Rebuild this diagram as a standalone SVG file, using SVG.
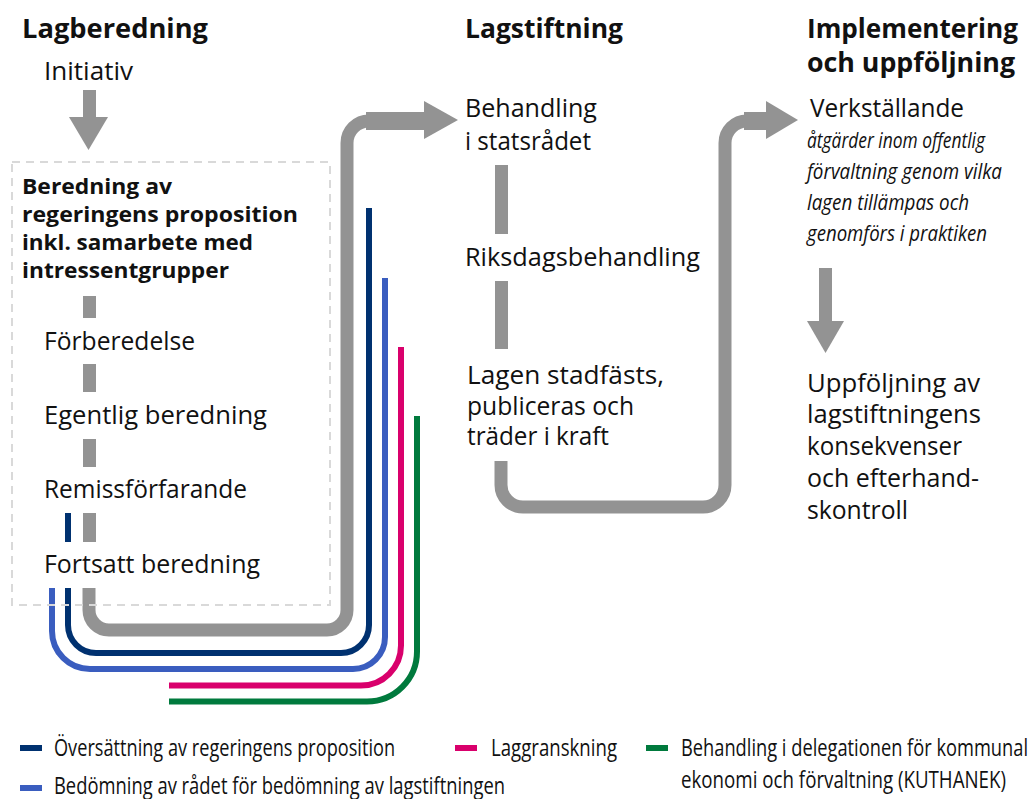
<svg xmlns="http://www.w3.org/2000/svg" width="1033" height="799" viewBox="0 0 1033 799">
<style>
.t{font-family:"Open Sans","Noto Sans",sans-serif;font-size:25px;fill:#111}
.h{font-family:"Open Sans","Noto Sans",sans-serif;font-size:26px;font-weight:bold;fill:#111}
.b{font-family:"Open Sans","Noto Sans",sans-serif;font-size:22px;font-weight:bold;fill:#111}
.i{font-family:"Open Sans","Noto Sans",sans-serif;font-size:22px;font-style:italic;fill:#111}
.l{font-family:"Open Sans","Noto Sans",sans-serif;font-size:23px;fill:#111}
.g{fill:#939393}
.gs{fill:none;stroke:#939393;stroke-width:13}
.c{fill:none;stroke-width:6}
</style>
<rect x="0" y="0" width="1033" height="799" fill="#fff"/>
<g id="connectors">
  <rect class="g" x="83" y="90" width="13" height="28"/>
  <polygon class="g" points="69,117 108,117 88.5,150"/>
  <rect class="g" x="83" y="296" width="13" height="22"/>
  <rect class="g" x="83" y="364" width="13" height="28"/>
  <rect class="g" x="83" y="439" width="13" height="28"/>
  <rect class="g" x="83" y="513" width="13" height="29"/>
  <rect x="65" y="513" width="6" height="29" fill="#003170"/>
  <rect class="g" x="495" y="165" width="13" height="69"/>
  <rect class="g" x="495" y="281" width="13" height="68"/>
  <rect class="g" x="819" y="268" width="13" height="54"/>
  <polygon class="g" points="807,321 844,321 825.5,353"/>
  <path class="c" stroke="#007a3d" d="M169,701.5 H367 A50,50 0 0 0 417,651.5 V416"/>
  <path class="c" stroke="#d9006c" d="M169,685.5 H361 A40,40 0 0 0 401,645.5 V347"/>
  <path class="c" stroke="#3a5dbf" d="M52,588 V631 A38,38 0 0 0 90,669 H353 A32,32 0 0 0 385,637 V278"/>
  <path class="c" stroke="#003170" d="M68,588 V625 A28,28 0 0 0 96,653 H341 A28,28 0 0 0 369,625 V208"/>
  <path class="gs" d="M89,588 V610 A20,20 0 0 0 109,630 H327 A20,20 0 0 0 347,610 V143 A22,22 0 0 1 369,121 H426"/>
  <rect class="g" x="366" y="112" width="60" height="18"/>
  <polygon class="g" points="424,101 424,139 458,120"/>
  <path class="gs" d="M501,461 V485 A22,22 0 0 0 523,507 H703 A22,22 0 0 0 725,485 V143 A22,22 0 0 1 747,121 H768"/>
  <rect class="g" x="744" y="112" width="24" height="18"/>
  <polygon class="g" points="766,101 766,139 798,120"/>
</g>
<g id="col-lagberedning">
  <text class="h" x="22" y="38" textLength="186" lengthAdjust="spacingAndGlyphs">Lagberedning</text>
  <text class="t" x="44" y="80" textLength="89" lengthAdjust="spacingAndGlyphs">Initiativ</text>
</g>
<g id="node-beredning">
  <rect x="12" y="162" width="318" height="443" fill="none" stroke="#d9d9d9" stroke-width="2" stroke-dasharray="8 6"/>
  <text class="b" x="22" y="194" textLength="150" lengthAdjust="spacingAndGlyphs">Beredning av</text>
  <text class="b" x="22" y="222" textLength="276" lengthAdjust="spacingAndGlyphs">regeringens proposition</text>
  <text class="b" x="22" y="250" textLength="231" lengthAdjust="spacingAndGlyphs">inkl. samarbete med</text>
  <text class="b" x="22" y="278" textLength="207" lengthAdjust="spacingAndGlyphs">intressentgrupper</text>
  <text class="t" x="44" y="350" textLength="151" lengthAdjust="spacingAndGlyphs">Förberedelse</text>
  <text class="t" x="44" y="424" textLength="223" lengthAdjust="spacingAndGlyphs">Egentlig beredning</text>
  <text class="t" x="44" y="498" textLength="203" lengthAdjust="spacingAndGlyphs">Remissförfarande</text>
  <text class="t" x="44" y="573" textLength="216" lengthAdjust="spacingAndGlyphs">Fortsatt beredning</text>
</g>
<g id="col-lagstiftning">
  <text class="h" x="465" y="38" textLength="158" lengthAdjust="spacingAndGlyphs">Lagstiftning</text>
  <text class="t" x="465" y="117" textLength="132" lengthAdjust="spacingAndGlyphs">Behandling</text>
  <text class="t" x="465" y="150" textLength="126" lengthAdjust="spacingAndGlyphs">i statsrådet</text>
  <text class="t" x="465" y="266" textLength="235" lengthAdjust="spacingAndGlyphs">Riksdagsbehandling</text>
  <text class="t" x="467" y="384" textLength="197" lengthAdjust="spacingAndGlyphs">Lagen stadfästs,</text>
  <text class="t" x="467" y="415" textLength="167" lengthAdjust="spacingAndGlyphs">publiceras och</text>
  <text class="t" x="467" y="445" textLength="142" lengthAdjust="spacingAndGlyphs">träder i kraft</text>
</g>
<g id="col-implementering">
  <text class="h" x="807" y="38" textLength="211" lengthAdjust="spacingAndGlyphs">Implementering</text>
  <text class="h" x="807" y="72" textLength="208" lengthAdjust="spacingAndGlyphs">och uppföljning</text>
  <text class="t" x="810" y="117" textLength="154" lengthAdjust="spacingAndGlyphs">Verkställande</text>
  <text class="i" transform="translate(807,148) scale(0.8,1)" textLength="222.5" lengthAdjust="spacingAndGlyphs">åtgärder inom offentlig</text>
  <text class="i" transform="translate(807,179) scale(0.8,1)" textLength="243.75" lengthAdjust="spacingAndGlyphs">förvaltning genom vilka</text>
  <text class="i" transform="translate(807,210) scale(0.8,1)" textLength="202.5" lengthAdjust="spacingAndGlyphs">lagen tillämpas och</text>
  <text class="i" transform="translate(807,241) scale(0.8,1)" textLength="225" lengthAdjust="spacingAndGlyphs">genomförs i praktiken</text>
  <text class="t" x="807" y="392" textLength="173" lengthAdjust="spacingAndGlyphs">Uppföljning av</text>
  <text class="t" x="807" y="423" textLength="174" lengthAdjust="spacingAndGlyphs">lagstiftningens</text>
  <text class="t" x="807" y="455" textLength="155" lengthAdjust="spacingAndGlyphs">konsekvenser</text>
  <text class="t" x="807" y="487" textLength="172" lengthAdjust="spacingAndGlyphs">och efterhand-</text>
  <text class="t" x="807" y="519" textLength="101" lengthAdjust="spacingAndGlyphs">skontroll</text>
</g>
<g id="legend">
  <rect x="20" y="745" width="22" height="6" fill="#003170"/>
  <text class="l" transform="translate(54,756) scale(0.75,1)" textLength="454.7" lengthAdjust="spacingAndGlyphs">Översättning av regeringens proposition</text>
  <rect x="455" y="745" width="22" height="6" fill="#d9006c"/>
  <text class="l" transform="translate(491,756) scale(0.75,1)" textLength="168" lengthAdjust="spacingAndGlyphs">Laggranskning</text>
  <rect x="646" y="745" width="22" height="6" fill="#007a3d"/>
  <text class="l" transform="translate(681,756) scale(0.75,1)" textLength="462.7" lengthAdjust="spacingAndGlyphs">Behandling i delegationen för kommunal</text>
  <text class="l" transform="translate(681,788) scale(0.75,1)" textLength="433.3" lengthAdjust="spacingAndGlyphs">ekonomi och förvaltning (KUTHANEK)</text>
  <rect x="20" y="785" width="22" height="6" fill="#3a5dbf"/>
  <text class="l" transform="translate(54,794) scale(0.75,1)" textLength="601.3" lengthAdjust="spacingAndGlyphs">Bedömning av rådet för bedömning av lagstiftningen</text>
</g>
</svg>
